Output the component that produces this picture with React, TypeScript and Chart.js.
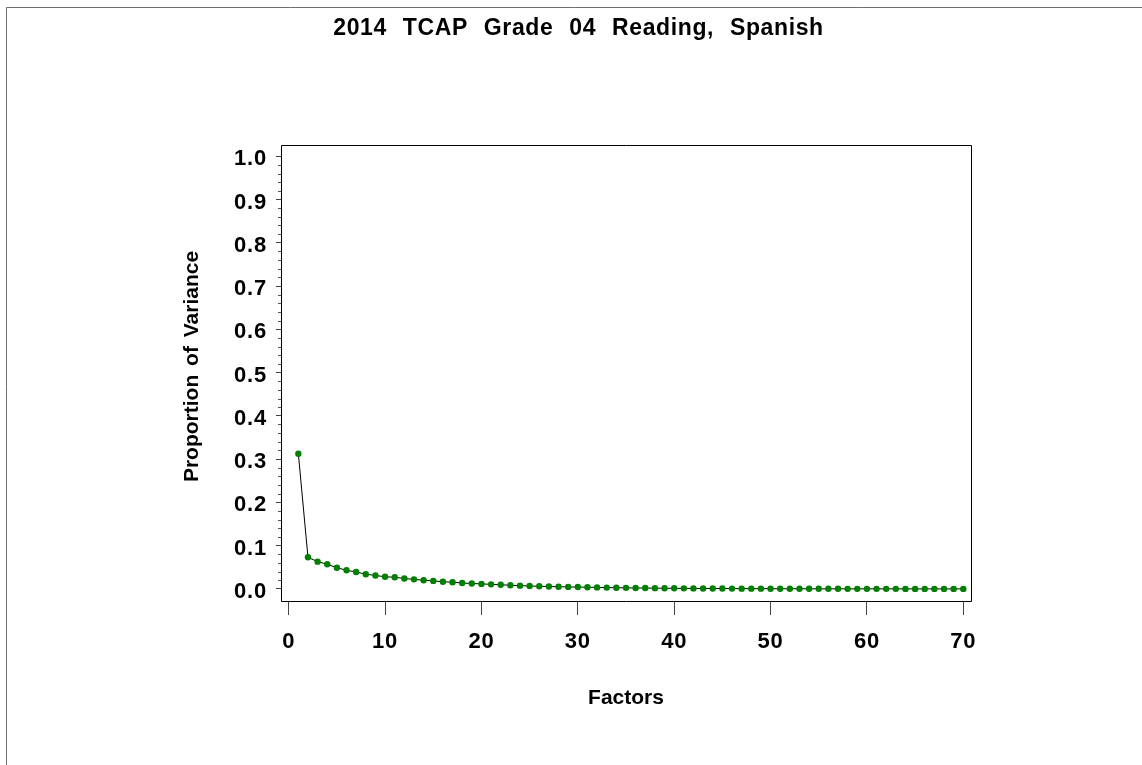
import React, { useEffect, useRef } from "react";
import { Chart, registerables } from "chart.js";

Chart.register(...registerables);

const TITLE = "2014 TCAP Grade 04 Reading, Spanish";
const X_TITLE = "Factors";
const Y_TITLE = "Proportion of Variance";

const factors = [
  1, 2, 3, 4, 5, 6, 7, 8, 9, 10,
  11, 12, 13, 14, 15, 16, 17, 18, 19, 20,
  21, 22, 23, 24, 25, 26, 27, 28, 29, 30,
  31, 32, 33, 34, 35, 36, 37, 38, 39, 40,
  41, 42, 43, 44, 45, 46, 47, 48, 49, 50,
  51, 52, 53, 54, 55, 56, 57, 58, 59, 60,
  61, 62, 63, 64, 65, 66, 67, 68, 69, 70,
];

const proportion = [
  0.3125, 0.073, 0.063, 0.057, 0.049, 0.043, 0.039, 0.034, 0.031, 0.028,
  0.027, 0.024, 0.022, 0.020, 0.0185, 0.0165, 0.0155, 0.0135, 0.0125, 0.0115,
  0.0105, 0.0095, 0.0085, 0.0075, 0.0068, 0.006, 0.0055, 0.005, 0.0046, 0.0042,
  0.0038, 0.0034, 0.003, 0.0027, 0.0024, 0.0021, 0.0019, 0.0017, 0.0015, 0.0013,
  0.0012, 0.0011, 0.001, 0.0009, 0.0008, 0.0007, 0.0006, 0.0005, 0.0005, 0.0004,
  0.0003, 0.0003, 0.0003, 0.0002, 0.0002, 0.0002, 0.0002, 0.0001, 0.0001, 0.0001,
  0.0001, 0.0001, 0.0001, 0.0, 0.0, 0.0, 0.0, 0.0, 0.0, 0.0,
];

const xTickValues = [0, 10, 20, 30, 40, 50, 60, 70];
const yTickValues = [0.0, 0.1, 0.2, 0.3, 0.4, 0.5, 0.6, 0.7, 0.8, 0.9, 1.0];

const X_MIN = -0.8;
const X_MAX = 70.8;
const Y_MIN = -0.028;
const Y_MAX = 1.026;

const FONT = '"Liberation Sans", Arial, Helvetica, sans-serif';

const decorPlugin = {
  id: "decor",
  beforeDraw(chart: any) {
    // slightly wider tick label glyph spacing, like the original SAS font
    (chart.ctx as any).letterSpacing = "0.8px";
  },
  afterDraw(chart: any) {
    const ctx = chart.ctx as CanvasRenderingContext2D;
    const { left, top, right, bottom } = chart.chartArea;
    const yScale = chart.scales.y;
    ctx.save();

    // page frame (top and left edges)
    ctx.strokeStyle = "#6e6e6e";
    ctx.lineWidth = 1;
    ctx.beginPath();
    ctx.moveTo(6.5, chart.height);
    ctx.lineTo(6.5, 7.5);
    ctx.lineTo(chart.width, 7.5);
    ctx.stroke();

    // plot frame
    ctx.strokeStyle = "#000";
    ctx.beginPath();
    ctx.rect(Math.round(left) + 0.5, Math.round(top) + 0.5, Math.round(right - left), Math.round(bottom - top));
    ctx.stroke();

    // minor y ticks
    ctx.strokeStyle = "#555";
    ctx.beginPath();
    for (let i = 0; i < yTickValues.length - 1; i++) {
      const a = yTickValues[i];
      const b = yTickValues[i + 1];
      for (let k = 1; k < 5; k++) {
        const v = a + ((b - a) * k) / 5;
        const py = Math.round(yScale.getPixelForValue(v)) + 0.5;
        ctx.moveTo(Math.round(left) - 3, py);
        ctx.lineTo(Math.round(left), py);
      }
    }
    ctx.stroke();

    // texts
    ctx.fillStyle = "#000";
    ctx.textBaseline = "alphabetic";
    ctx.textAlign = "center";

    (ctx as any).letterSpacing = "0.6px";
    (ctx as any).wordSpacing = "9px";
    ctx.font = `bold 23px ${FONT}`;
    ctx.fillText(TITLE, 578.5, 35);

    (ctx as any).letterSpacing = "0px";
    (ctx as any).wordSpacing = "3px";
    ctx.font = `bold 21px ${FONT}`;
    ctx.fillText(X_TITLE, (left + right) / 2, 703.5);

    ctx.translate(198, 366.5);
    ctx.rotate(-Math.PI / 2);
    ctx.fillText(Y_TITLE, 0, 0);

    ctx.restore();
    (ctx as any).letterSpacing = "0px";
    (ctx as any).wordSpacing = "0px";
  },
};

export default function App() {
  const canvasRef = useRef<HTMLCanvasElement | null>(null);

  useEffect(() => {
    if (!canvasRef.current) return;
    const chart = new Chart(canvasRef.current, {
      type: "line",
      data: {
        datasets: [
          {
            data: factors.map((f, i) => ({ x: f, y: proportion[i] })),
            borderColor: "#000",
            borderWidth: 1,
            pointBackgroundColor: "#008000",
            pointBorderColor: "#008000",
            pointBorderWidth: 0,
            pointRadius: 3.2,
            tension: 0,
            fill: false,
          },
        ],
      },
      options: {
        responsive: true,
        maintainAspectRatio: false,
        animation: false,
        layout: { padding: { top: 145, right: 171, left: 0, bottom: 0 } },
        plugins: {
          legend: { display: false },
          tooltip: { enabled: false },
          title: { display: false },
        },
        scales: {
          x: {
            type: "linear",
            min: X_MIN,
            max: X_MAX,
            afterBuildTicks: (s: any) => {
              s.ticks = xTickValues.map((v) => ({ value: v }));
            },
            afterFit: (s: any) => {
              s.height = 164;
            },
            border: { display: false },
            grid: {
              display: true,
              drawOnChartArea: false,
              drawTicks: true,
              tickLength: 14,
              tickColor: "#444",
              lineWidth: 1,
            },
            ticks: {
              autoSkip: false,
              maxRotation: 0,
              padding: 14,
              color: "#000",
              font: { family: FONT, size: 22, weight: "bold" },
              callback: (v: any) => String(v),
            },
          },
          y: {
            type: "linear",
            min: Y_MIN,
            max: Y_MAX,
            afterBuildTicks: (s: any) => {
              s.ticks = yTickValues.map((v) => ({ value: v }));
            },
            afterFit: (s: any) => {
              s.width = 281;
            },
            border: { display: false },
            grid: {
              display: true,
              drawOnChartArea: false,
              drawTicks: true,
              tickLength: 5,
              tickColor: "#444",
              lineWidth: 1,
            },
            ticks: {
              autoSkip: false,
              padding: 9,
              labelOffset: 3,
              color: "#000",
              font: { family: FONT, size: 22, weight: "bold" },
              callback: (v: any) => Number(v).toFixed(1),
            },
          },
        },
      } as any,
      plugins: [decorPlugin],
    });
    return () => chart.destroy();
  }, []);

  return (
    <div style={{ position: "absolute", left: 0, top: 0, width: 1142, height: 765, background: "#fff" }}>
      <canvas ref={canvasRef} />
    </div>
  );
}
